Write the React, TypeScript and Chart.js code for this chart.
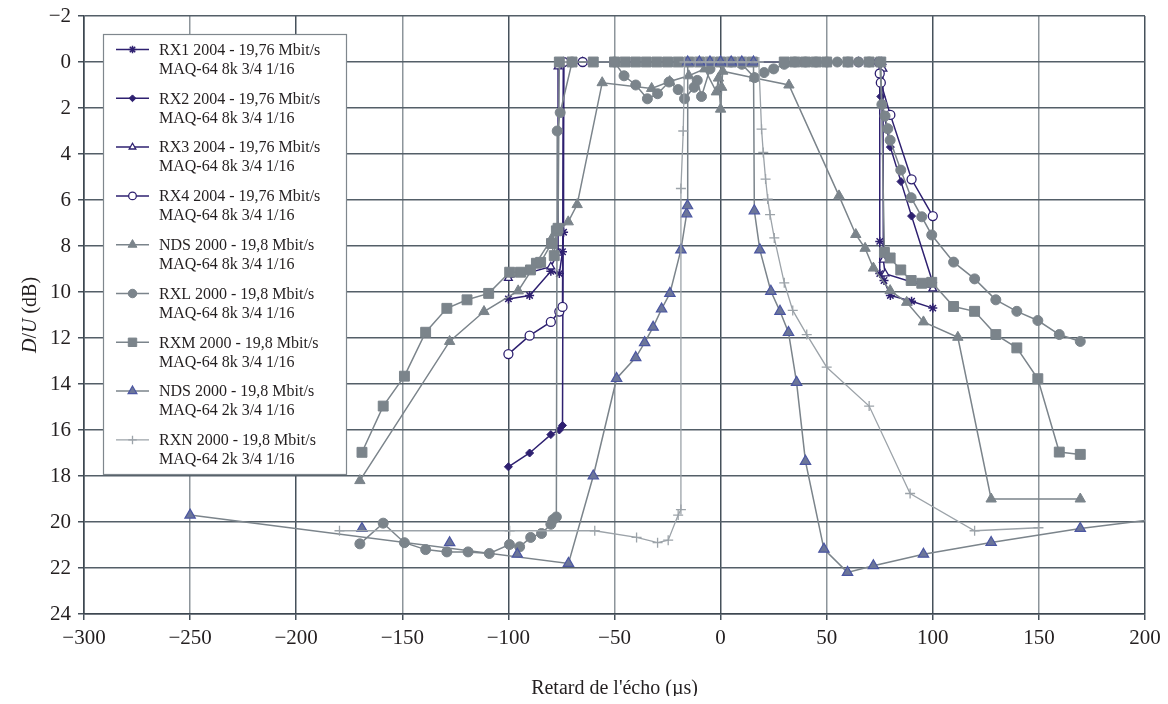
import React, { useEffect, useRef } from "react";
import { Chart, registerables } from "chart.js";
import { drawPoint } from "chart.js/helpers";

Chart.register(...registerables);

type P = [number, number];

// ---------- axis ticks ----------
const xTickValues: number[] = [-300, -250, -200, -150, -100, -50, 0, 50, 100, 150, 200];
const yTickValues: number[] = [-2, 0, 2, 4, 6, 8, 10, 12, 14, 16, 18, 20, 22, 24];
const xTitle = "Retard de l'écho (µs)";

// ---------- series (x: delay µs, y: D/U dB) ----------
const rx1: P[] = [
  [-100, 10.3], [-90, 10.15], [-80, 9.1], [-76, 9.2], [-74.5, 8.25], [-74, 7.4], [-74, 0],
  [-65, 0], [55, 0], [65, 0], [75, 0], [75, 7.8], [75, 9.2], [77, 9.5], [80, 10.15], [90, 10.4], [100, 10.7],
];
const rx2: P[] = [
  [-100, 17.6], [-90, 17.0], [-80, 16.2], [-76, 16.0], [-74.5, 15.8], [-74, 0], [-65, 0], [65, 0],
  [75, 0], [75.5, 1.5], [80, 3.7], [85, 5.2], [90, 6.7], [100, 9.6],
];
const rx3: P[] = [
  [-100, 9.4], [-80, 8.9], [-76.6, 8.3], [-76.6, 0.2], [-65, 0], [65, 0], [76, 0], [76.5, 0.3],
  [76.7, 8.6], [77.5, 9.2], [100, 9.85],
];
const rx4: P[] = [
  [-100, 12.7], [-90, 11.9], [-80, 11.3], [-76, 10.85], [-74.5, 10.65], [-74, 0], [-65, 0], [65, 0],
  [74.5, 0], [75, 0.5], [75.5, 0.9], [80, 2.3], [90, 5.1], [100, 6.7],
];
const nds8k: P[] = [
  [-170, 18.2], [-127.7, 12.15], [-111.5, 10.85], [-95.4, 9.95], [-79.7, 7.7], [-77, 7.4], [-71.8, 6.95],
  [-67.6, 6.2], [-55.8, 0.9], [-32.5, 1.15], [-24, 0.85], [-15, 0.6], [-7.5, 0.3], [-2, 1.3], [-1, 0.7],
  [0, 2.05], [0.5, 1.1], [1, 0.4], [16, 0.7], [32.2, 1.0], [55.8, 5.82], [63.7, 7.5], [68.1, 8.1],
  [72, 8.96], [79.9, 9.94], [87.7, 10.45], [95.6, 11.3], [111.8, 11.97], [127.5, 19.0], [169.5, 19.0],
];
const rxl: P[] = [
  [-170, 20.95], [-159, 20.05], [-149, 20.9], [-139, 21.2], [-129, 21.3], [-119, 21.3], [-109, 21.37],
  [-99.5, 20.98], [-94.7, 21.08], [-89.5, 20.67], [-84.4, 20.5], [-80, 20.1], [-79, 19.9], [-77.4, 19.78],
  [-77, 3.0], [-75.6, 2.2], [-70, 0], [-50, 0], [-45.5, 0.6], [-40, 1.0], [-34.5, 1.6], [-29.7, 1.38],
  [-24.3, 0.87], [-20, 1.2], [-17, 1.6], [-12.5, 1.1], [-11, 0.8], [-9, 1.5], [-5, 0.3], [0, 0], [5, 0],
  [10, 0.1], [16, 0.68], [20.5, 0.46], [25, 0.3], [30, 0.1], [35, 0], [40, 0], [45, 0], [50, 0], [55, 0],
  [60, 0], [65, 0], [70, 0], [75, 0], [76, 1.85], [77.5, 2.35], [78.8, 2.9], [79.9, 3.4], [84.9, 4.7],
  [89.8, 5.9], [94.8, 6.73], [99.5, 7.52], [109.8, 8.7], [119.7, 9.43], [129.7, 10.34], [139.6, 10.84],
  [149.5, 11.24], [159.6, 11.85], [169.5, 12.15],
];
const rxm: P[] = [
  [-169, 16.97], [-159, 14.96], [-149, 13.66], [-139, 11.75], [-129, 10.71], [-119.5, 10.34],
  [-109.3, 10.06], [-99.4, 9.14], [-94.3, 9.14], [-89.6, 9.04], [-86.8, 8.75], [-84.8, 8.71],
  [-79.7, 7.89], [-78.4, 8.42], [-77.4, 7.34], [-76.6, 7.23], [-76, 0], [-70, 0], [-60, 0], [-50, 0],
  [-45, 0], [-40, 0], [-35, 0], [-30, 0], [-25, 0], [-20, 0], [-15, 0], [-10, 0], [-5, 0], [0, 0],
  [5, 0], [10, 0], [15, 0], [30, 0], [35, 0], [40, 0], [45, 0], [50, 0], [60, 0], [70, 0], [75.5, 0],
  [77.2, 8.28], [79.9, 8.52], [84.9, 9.04], [89.8, 9.5], [94.8, 9.62], [99.5, 9.58], [109.8, 10.63],
  [119.7, 10.84], [129.7, 11.85], [139.6, 12.43], [149.5, 13.77], [159.6, 16.96], [169.5, 17.06],
];
const nds2k: P[] = [
  [-250, 19.7], [-71.7, 21.8], [-60, 18.0], [-49, 13.76], [-40, 12.85], [-35.8, 12.2], [-31.8, 11.53],
  [-27.8, 10.74], [-23.9, 10.06], [-18.7, 8.17], [-16, 6.6], [-15.6, 6.25], [-15.5, 0], [-10, 0],
  [-5, 0], [0, 0], [5, 0], [10, 0], [15.5, 0], [15.9, 6.47], [18.5, 8.17], [23.7, 9.97], [28, 10.84],
  [32, 11.76], [35.8, 13.93], [40, 17.36], [48.7, 21.18], [59.8, 22.19], [72, 21.9], [95.6, 21.4],
  [127.5, 20.89], [169.5, 20.28], [205, 19.88],
];
const nds2kIsolated: P[] = [[-169, 20.28], [-127.7, 20.9], [-95.8, 21.4]];
const rxn: P[] = [
  [-179.6, 20.38], [-99.4, 20.38], [-59.3, 20.38], [-39.6, 20.67], [-29.7, 20.9], [-24.7, 20.79],
  [-20, 19.7], [-18.7, 19.46], [-18.7, 5.5], [-17.6, 3.0], [-17, 0], [-12, 0], [-7, 0], [-3, 0], [3, 0],
  [8, 0], [12, 0], [18, 0], [19.3, 2.92], [20.1, 3.93], [21.2, 5.09], [22.2, 5.96], [23.3, 6.64],
  [25.3, 7.65], [30, 9.6], [34, 10.8], [40.6, 11.85], [50, 13.27], [70, 14.96], [89.3, 18.76],
  [119.7, 20.38], [149.8, 20.25],
];

const legendLine1: string[] = [
  "RX1 2004 - 19,76 Mbit/s", "RX2 2004 - 19,76 Mbit/s", "RX3 2004 - 19,76 Mbit/s", "RX4 2004 - 19,76 Mbit/s",
  "NDS 2000 - 19,8 Mbit/s", "RXL 2000 - 19,8 Mbit/s", "RXM 2000 - 19,8 Mbit/s", "NDS 2000 - 19,8 Mbit/s",
  "RXN 2000 - 19,8 Mbit/s",
];
const legendLine2: string[] = [
  "MAQ-64 8k 3/4 1/16", "MAQ-64 8k 3/4 1/16", "MAQ-64 8k 3/4 1/16", "MAQ-64 8k 3/4 1/16",
  "MAQ-64 8k 3/4 1/16", "MAQ-64 8k 3/4 1/16", "MAQ-64 8k 3/4 1/16", "MAQ-64 2k 3/4 1/16",
  "MAQ-64 2k 3/4 1/16",
];

// ---------- styles ----------
const NAVY = "#2e2070";
const GRAY = "#7b848b";
const LIGHT = "#9ca3a9";
const NDSFILL = "#6c7699";
const NDSEDGE = "#4b56a2";
const SERIF = "'Liberation Serif', 'Times New Roman', serif";

const W = 1152;
const H = 688;

const toXY = (a: P[]) => a.map(([x, y]) => ({ x, y }));
const minus = (v: number | string) => String(v).replace("-", "\u2212");

type Style = {
  color: string;
  fill: string;
  edge: string;
  pointStyle: string;
  radius: number;
  width: number;
  edgeWidth: number;
};

const styles: Style[] = [
  { color: NAVY, fill: NAVY, edge: NAVY, pointStyle: "star", radius: 4.5, width: 1.5, edgeWidth: 1.5 },
  { color: NAVY, fill: NAVY, edge: NAVY, pointStyle: "rectRot", radius: 4, width: 1.5, edgeWidth: 1 },
  { color: NAVY, fill: "#ffffff", edge: NAVY, pointStyle: "triangle", radius: 4.5, width: 1.5, edgeWidth: 1.3 },
  { color: NAVY, fill: "#ffffff", edge: NAVY, pointStyle: "circle", radius: 4.5, width: 1.5, edgeWidth: 1.3 },
  { color: GRAY, fill: GRAY, edge: GRAY, pointStyle: "triangle", radius: 6, width: 1.5, edgeWidth: 1 },
  { color: GRAY, fill: GRAY, edge: GRAY, pointStyle: "circle", radius: 5, width: 1.5, edgeWidth: 1 },
  { color: GRAY, fill: GRAY, edge: GRAY, pointStyle: "rect", radius: 7, width: 1.5, edgeWidth: 1 },
  { color: GRAY, fill: NDSFILL, edge: NDSEDGE, pointStyle: "triangle", radius: 6, width: 1.5, edgeWidth: 1.2 },
  { color: LIGHT, fill: LIGHT, edge: LIGHT, pointStyle: "cross", radius: 5, width: 1.3, edgeWidth: 1.3 },
];

const seriesData: P[][] = [rx1, rx2, rx3, rx4, nds8k, rxl, rxm, nds2k, rxn];

const overlay = {
  id: "overlay",
  afterDatasetsDraw(chart: any) {
    const ctx: CanvasRenderingContext2D = chart.ctx;
    ctx.save();
    // legend box
    const bx = 95.5, by = 26.5, bw = 243, bh = 440;
    ctx.fillStyle = "#ffffff";
    ctx.fillRect(bx, by, bw, bh);
    ctx.strokeStyle = "#7f878d";
    ctx.lineWidth = 1.2;
    ctx.strokeRect(bx, by, bw, bh);
    ctx.font = `16px ${SERIF}`;
    ctx.textBaseline = "middle";
    ctx.textAlign = "left";
    for (let i = 0; i < styles.length; i++) {
      const s = styles[i];
      const y = 41.5 + 48.8 * i;
      ctx.strokeStyle = s.color;
      ctx.lineWidth = s.width;
      ctx.beginPath();
      ctx.moveTo(108, y);
      ctx.lineTo(141, y);
      ctx.stroke();
      ctx.fillStyle = s.fill;
      ctx.strokeStyle = s.edge;
      ctx.lineWidth = s.edgeWidth;
      drawPoint(ctx, { pointStyle: s.pointStyle, radius: s.radius * 0.85, rotation: 0, borderWidth: s.edgeWidth } as any, 124.5, y);
      ctx.fillStyle = "#231f20";
      ctx.fillText(legendLine1[i], 151, y + 1);
      ctx.fillText(legendLine2[i], 151, y + 20);
    }
    ctx.restore();
  },
  afterDraw(chart: any) {
    const ctx: CanvasRenderingContext2D = chart.ctx;
    const area = chart.chartArea;
    ctx.save();
    ctx.fillStyle = "#231f20";
    // x title
    ctx.font = `20px ${SERIF}`;
    ctx.textAlign = "center";
    ctx.textBaseline = "middle";
    ctx.fillText(xTitle, (area.left + area.right) / 2, 681);
    // y title with italic parts
    const parts: [string, boolean][] = [["D", true], ["/", false], ["U", true], [" (dB)", false]];
    const fontFor = (it: boolean) => `${it ? "italic " : ""}20px ${SERIF}`;
    let total = 0;
    for (const [t, it] of parts) {
      ctx.font = fontFor(it);
      total += ctx.measureText(t).width;
    }
    ctx.translate(23, (area.top + area.bottom) / 2);
    ctx.rotate(-Math.PI / 2);
    ctx.textAlign = "left";
    let x = -total / 2;
    for (const [t, it] of parts) {
      ctx.font = fontFor(it);
      ctx.fillText(t, x, 0);
      x += ctx.measureText(t).width;
    }
    ctx.restore();
  },
};

export default function App() {
  const ref = useRef<HTMLCanvasElement>(null);
  useEffect(() => {
    const datasets: any[] = seriesData.map((d, i) => {
      const s = styles[i];
      return {
        label: legendLine1[i] + " " + legendLine2[i],
        data: toXY(d),
        showLine: true,
        borderColor: s.color,
        borderWidth: s.width,
        pointStyle: s.pointStyle,
        pointRadius: s.radius,
        pointBackgroundColor: s.fill,
        pointBorderColor: s.edge,
        pointBorderWidth: s.edgeWidth,
        order: 20 - i,
      };
    });
    const ns = styles[7];
    datasets.push({
      label: "NDS 2000 2k (isolated)",
      data: toXY(nds2kIsolated),
      showLine: false,
      pointStyle: ns.pointStyle,
      pointRadius: ns.radius,
      pointBackgroundColor: ns.fill,
      pointBorderColor: ns.edge,
      pointBorderWidth: ns.edgeWidth,
      order: 12,
    });

    const chart = new Chart(ref.current as HTMLCanvasElement, {
      type: "scatter",
      data: { datasets },
      options: {
        animation: false,
        responsive: false,
        maintainAspectRatio: false,
        devicePixelRatio: 1,
        layout: { padding: { top: 7, right: 15, left: 0, bottom: 0 } },
        plugins: { legend: { display: false }, tooltip: { enabled: false } },
        scales: {
          x: {
            type: "linear",
            min: -300,
            max: 200,
            afterBuildTicks: (s: any) => {
              s.ticks = xTickValues.map((v) => ({ value: v }));
            },
            afterFit: (s: any) => {
              s.height = 82;
              s.paddingLeft = 0;
              s.paddingRight = 0;
            },
            ticks: {
              callback: (v: any) => minus(v),
              font: { family: SERIF, size: 21 },
              color: "#231f20",
              padding: 6,
              maxRotation: 0,
              autoSkip: false,
            },
            grid: {
              color: (c: any) => (c.tick && Math.abs(c.tick.value) % 100 === 0 ? "#46515b" : "#8d959b"),
              lineWidth: 1.5,
              tickLength: 6,
              tickColor: "#46515b",
            },
            border: { color: "#3d4750", width: 1.5 },
          },
          y: {
            type: "linear",
            reverse: true,
            min: -2,
            max: 24,
            afterBuildTicks: (s: any) => {
              s.ticks = yTickValues.map((v) => ({ value: v }));
            },
            afterFit: (s: any) => {
              s.width = 76;
              s.paddingTop = 0;
              s.paddingBottom = 0;
            },
            ticks: {
              callback: (v: any) => minus(v),
              font: { family: SERIF, size: 21 },
              color: "#231f20",
              padding: 7,
              autoSkip: false,
            },
            grid: {
              color: "#545f68",
              lineWidth: 1.5,
              tickLength: 6,
              tickColor: "#46515b",
            },
            border: { color: "#3d4750", width: 1.5 },
          },
        },
      },
      plugins: [overlay],
    } as any);
    return () => chart.destroy();
  }, []);

  return (
    <div style={{ width: W, height: H }}>
      <canvas ref={ref} width={W} height={H} style={{ display: "block", width: W, height: H }} />
    </div>
  );
}
